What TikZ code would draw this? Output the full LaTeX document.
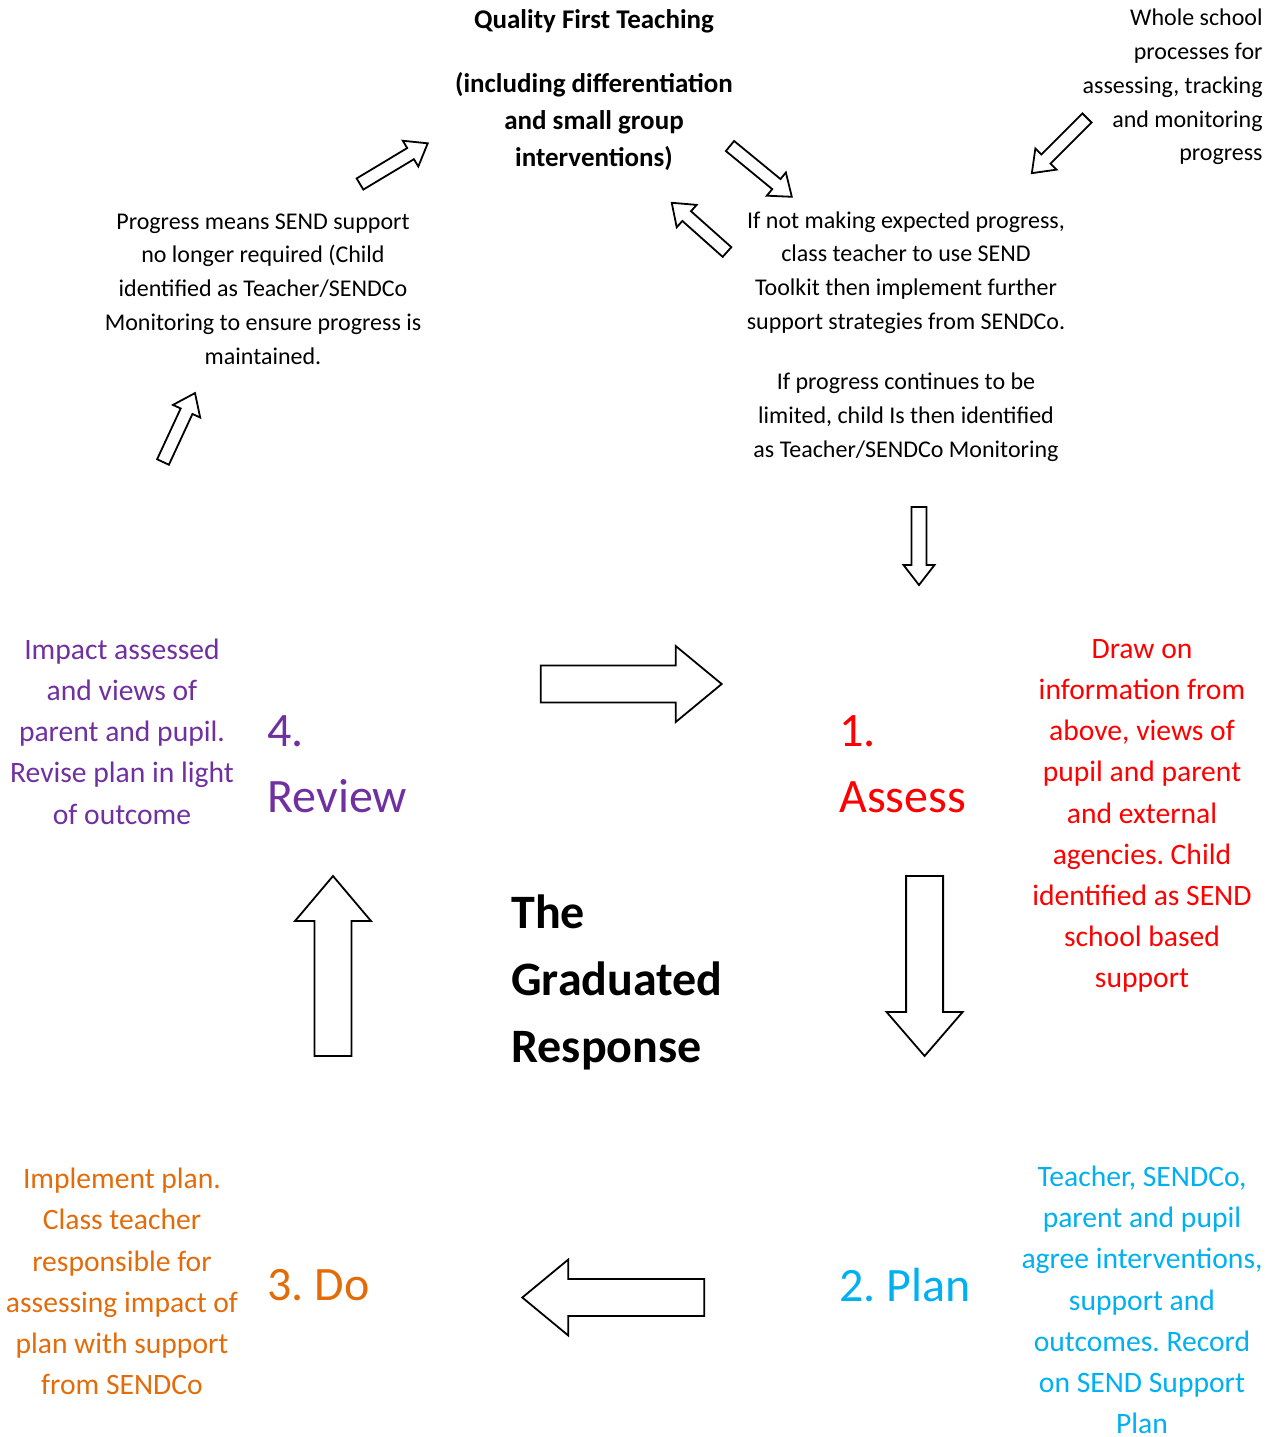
\documentclass[tikz,border=0pt]{standalone}
\usepackage{fontspec}
\setmainfont{Carlito}
\usetikzlibrary{positioning}
\frenchspacing

\definecolor{reviewpurple}{HTML}{7030A0}
\definecolor{assessred}{HTML}{FF0000}
\definecolor{doorange}{HTML}{E36C0A}
\definecolor{planblue}{HTML}{00B0F0}

% block arrow: tail x, tail y, angle, length, half shaft, half head, head length
\newcommand{\blockarrow}[7]{%
  \draw[arrowline,shift={(#1,#2)},rotate=#3]
    (0,-#5) -- ({#4-#7},-#5) -- ({#4-#7},-#6) -- (#4,0)
    -- ({#4-#7},#6) -- ({#4-#7},#5) -- (0,#5) -- cycle;}

\begin{document}
\begin{tikzpicture}[x=0.5pt,y=-0.5pt]
  \tikzstyle{plain}=[inner sep=0pt,align=center,font=\fontsize{12}{16.9}\selectfont]
  \tikzstyle{desc}=[inner sep=0pt,align=center,font=\fontsize{14.8}{20.6}\selectfont]
  \tikzstyle{stage}=[inner sep=0pt,anchor=west,align=left,font=\fontsize{24}{33}\selectfont]
  \tikzstyle{arrowline}=[draw=black,line width=0.9pt,fill=white,line join=miter]

  \useasboundingbox (0,0) rectangle (1276,1437);

  % top part
  \node[plain,font=\fontsize{13.5}{16.9}\selectfont\bfseries] (T_1) at (594,21) {Quality First Teaching};
  \node[plain,font=\fontsize{13.5}{18.5}\selectfont\bfseries] (T_2) at (594,122)
    {(including differentiation\\and small group\\interventions)};
  \node[plain,align=right,anchor=east] (T_3) at (1263,87)
    {Whole school\\processes for\\assessing, tracking\\and monitoring\\progress};
  \node[plain] (T_4) at (263,289)
    {Progress means SEND support\\no longer required (Child\\identified as Teacher/SENDCo\\Monitoring to ensure progress is\\maintained.};
  \node[plain] (T_5) at (906,272.5)
    {If not making expected progress,\\class teacher to use SEND\\Toolkit then implement further\\support strategies from SENDCo.};
  \node[plain] (T_6) at (906,417)
    {If progress continues to be\\limited, child Is then identified\\as Teacher/SENDCo Monitoring};

  % the cycle
  \node[desc,text=reviewpurple] (D_4) at (122,731.5)
    {Impact assessed\\and views of\\parent and pupil.\\Revise plan in light\\of outcome};
  \node[stage,text=reviewpurple] (S_4) at (267,764) {4.\\Review};
  \node[stage,text=assessred] (S_1) at (839,764) {1.\\Assess};
  \node[desc,text=assessred] (D_1) at (1142,816)
    {Draw on\\information from\\above, views of\\pupil and parent\\and external\\agencies. Child\\identified as SEND\\school based\\support};
  \node[stage,font=\fontsize{24}{33.5}\selectfont\bfseries] (C_1) at (511,982)
    {The\\Graduated\\Response};
  \node[desc,text=doorange] (D_3) at (122,1281.5)
    {Implement plan.\\Class teacher\\responsible for\\assessing impact of\\plan with support\\from SENDCo};
  \node[stage,text=doorange] (S_3) at (267,1285) {3. Do};
  \node[stage,text=planblue] (S_2) at (839,1285) {2. Plan};
  \node[desc,text=planblue] (D_2) at (1142,1300)
    {Teacher, SENDCo,\\parent and pupil\\agree interventions,\\support and\\outcomes. Record\\on SEND Support\\Plan};

  % small arrows
  \blockarrow{360}{184}{31}{79}{6.5}{15}{20}
  \blockarrow{730}{146}{-39.4}{80}{6.5}{15}{20}
  \blockarrow{727}{252}{138.3}{74}{6.5}{15}{20}
  \blockarrow{1087}{118}{225}{78}{6.5}{15}{20}
  \blockarrow{163}{462}{65.1}{76}{6.5}{15}{20}
  \blockarrow{919}{507}{-90}{78}{7.5}{15.5}{20}

  % big arrows
  \blockarrow{540.7}{684}{0}{181}{18.5}{38}{46}
  \blockarrow{924.6}{876}{-90}{180}{18.5}{38}{44}
  \blockarrow{333}{1056}{90}{180}{18.5}{38}{45}
  \blockarrow{704.3}{1297.5}{180}{182}{18.5}{38}{46}
\end{tikzpicture}
\end{document}
